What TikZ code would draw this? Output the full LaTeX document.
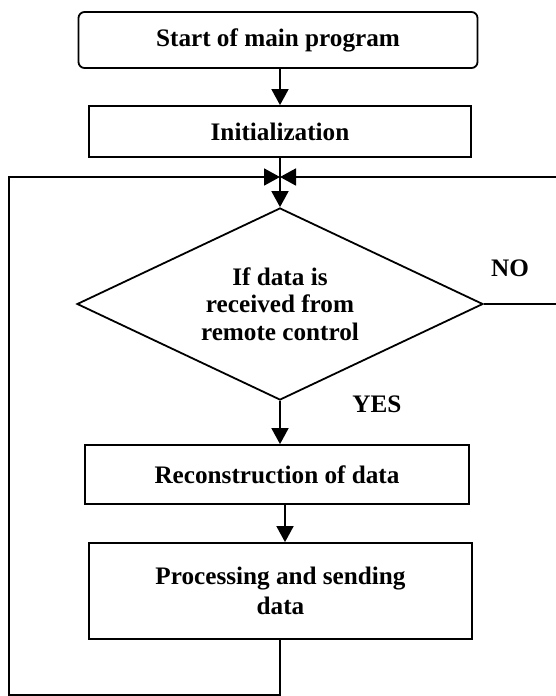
\documentclass[tikz,border=0pt]{standalone}
\usepackage{fontspec}
\setmainfont{Liberation Serif}
\usepackage{tikz}
\usetikzlibrary{arrows.meta,shapes.geometric}

\begin{document}
\begin{tikzpicture}[x=0.5pt, y=-0.5pt, line width=0.9pt,
	box/.style={draw, rectangle, font=\fontsize{12.6}{15}\selectfont\bfseries, align=center, inner sep=2pt},
	decision/.style={draw, diamond, aspect=2.1, font=\fontsize{12.6}{13.8}\selectfont\bfseries, align=center, inner sep=1pt,
		minimum width=203pt, minimum height=96pt},
	flow/.style={-{Triangle[length=8pt, width=8.5pt]}},
	lbl/.style={font=\fontsize{12.6}{15}\selectfont\bfseries}]
	\useasboundingbox (0,0) rectangle (556,696);
	\coordinate (join) at (280,177);
	\coordinate (loopB) at (9,695);
	\coordinate (loopR) at (562,305);
	\node[box, rounded corners=3pt, minimum width=199.5pt, minimum height=28pt] (start) at (278,40) {Start of main program};
	\node[box, minimum width=191pt, minimum height=25.5pt] (init) at (280,131.5) {Initialization};
	\node[decision] (check) at (280,304) {If data is\\received from\\remote control};
	\node[lbl] (no) at (510,268) {NO};
	\node[lbl] (yes) at (377,404) {YES};
	\node[box, minimum width=192pt, minimum height=29.5pt] (recon) at (277,474.5) {Reconstruction of data};
	\node[box, minimum width=191.5pt, minimum height=48pt] (proc) at (280.5,591) {Processing and sending\\data};
	\draw[flow] (start.south -| join) -- (init.north -| join);
	\draw[flow] (init.south -| join) -- (check.north);
	\draw[flow] (check.south) -- (check.south |- recon.north);
	\draw[flow] ([xshift=4pt]recon.south) -- ([xshift=4pt]recon.south |- proc.north);
	\draw[flow] (proc.south -| join) |- (loopB) |- (join);
	\draw[flow] (check.east) -- (check.east -| loopR) |- (join);
\end{tikzpicture}
\end{document}
